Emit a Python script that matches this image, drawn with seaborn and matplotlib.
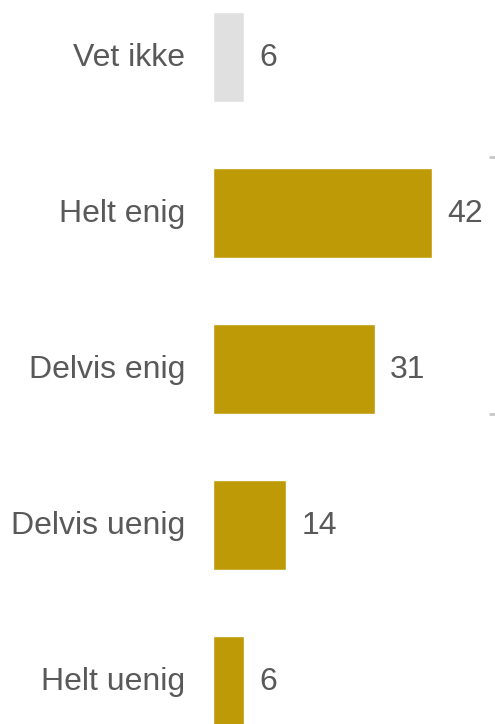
import matplotlib
matplotlib.use("Agg")
import matplotlib.pyplot as plt
import seaborn as sns
import pandas as pd

categories = ["Vet ikke", "Helt enig", "Delvis enig", "Delvis uenig", "Helt uenig"]
values = [6, 42, 31, 14, 6]
palette = ["#e0e0e0", "#bf9a07", "#bf9a07", "#bf9a07", "#bf9a07"]

sns.set_theme(style="white")
plt.rcParams["font.family"] = ["Liberation Sans", "DejaVu Sans"]

df = pd.DataFrame({"category": categories, "value": values})

fig = plt.figure(figsize=(4.95, 7.24), dpi=100)
ax = fig.add_axes([213 / 495, 0, 1 - 213 / 495, 1])

sns.barplot(data=df, x="value", y="category", hue="category", palette=palette,
            legend=False, width=0.58, saturation=1, ax=ax, orient="h")

ax.set_xlim(0, 282 / 5.22)
ax.set_ylim(4 + 43 / 156, -57 / 156)

text_color = "#595959"
for i, v in enumerate(values):
    ax.annotate(str(v), xy=(v, i), xytext=(11, -1), textcoords="offset points",
                ha="left", va="center", fontsize=23, color=text_color)
    ax.annotate(categories[i], xy=(0, i), xycoords=("axes fraction", "data"),
                xytext=(-20, -1), textcoords="offset points",
                ha="right", va="center", fontsize=23, color=text_color)

# small grey markers at the right edge bracketing the "enig" group
for yv in [0.64, 2.29]:
    ax.plot([0.984, 1.0], [yv, yv], transform=ax.get_yaxis_transform(),
            color="#c8c8c8", lw=2, clip_on=False)

ax.set_xlabel("")
ax.set_ylabel("")
ax.set_xticks([])
ax.set_yticks([])
for s in ax.spines.values():
    s.set_visible(False)

fig.savefig("out.png", dpi=100)
